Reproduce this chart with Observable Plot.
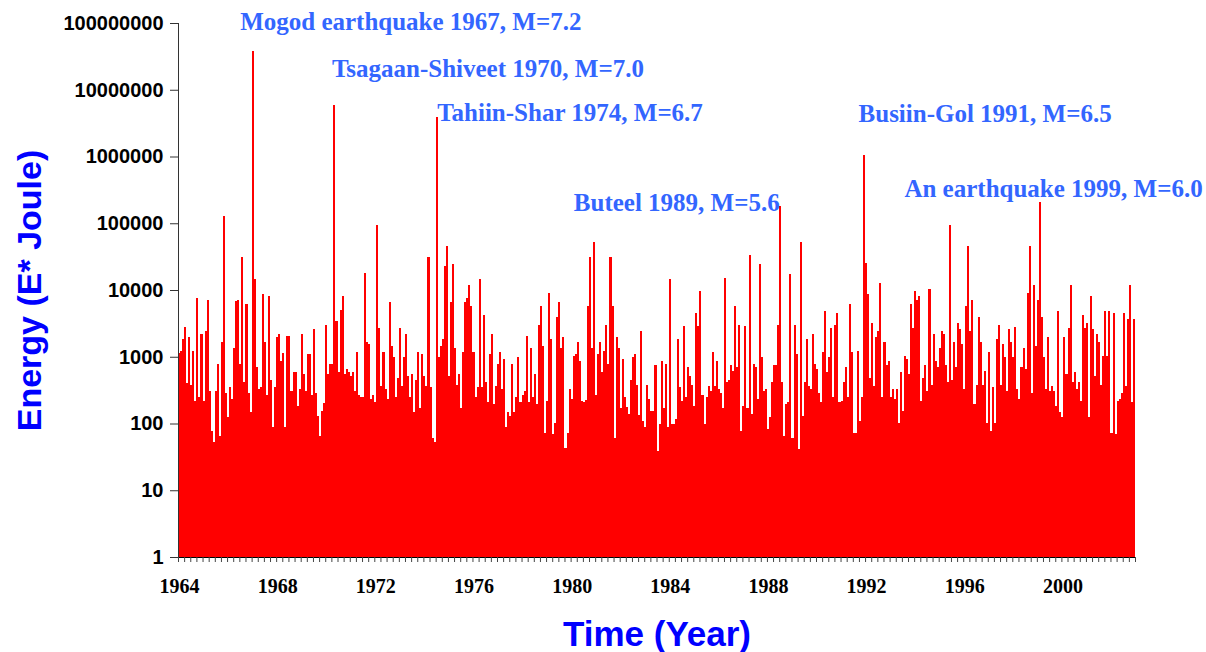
<!DOCTYPE html>
<html>
<head>
<meta charset="utf-8">
<script src="https://cdn.jsdelivr.net/npm/d3@7"></script>
<script src="https://cdn.jsdelivr.net/npm/@observablehq/plot@0.6"></script>
<style>
  html, body { margin: 0; padding: 0; background: #fff; }
  #chart svg { display: block; }
</style>
</head>
<body>
<div id="chart"></div>
<script>
// Monthly seismic energy (E* Joule), Jan 1964 – Dec 2002.
const energy1964to1968 = [
  1120, 1230, 1820, 2750, 410, 1960,
  380, 1230, 218, 7700, 247, 2230, 218, 2390, 7180, 304, 77, 53,
  304, 790, 65, 1690, 128000, 284, 124, 356, 230, 1330, 6780, 7180,
  790, 31100, 414, 6250, 284, 149, 38700000, 14600, 693, 325, 356,
  8800, 1640, 265, 8130, 443, 88, 348, 1950, 2230, 851, 1150, 88,
  2080, 2080, 304, 583, 583
];
const energy1968to1973 = [
  180, 325, 2230, 551, 304, 1085, 1085, 265, 2560, 290, 130, 65, 155, 200, 3040, 550, 790, 790,
  5900000,
  3480, 583, 4980, 8230, 551, 647, 583, 508, 583, 304, 1160,
  265, 250, 250, 17700, 1690, 1530, 233, 265, 208, 94400, 2740, 361,
  1160, 325, 233, 6700, 1440, 980, 250, 475, 2740, 361, 980, 2230,
  508, 250, 551, 150
];
const energy1973to1978 = [
  443, 1160, 169, 1085, 508, 361, 31600, 348, 60, 53,
  3950000,
  1000, 1440, 1820, 23100, 45900, 508, 6700, 24700,
  1330, 380, 545, 169, 1160, 6700, 7700, 12000, 5830, 1160, 250, 348,
  14800, 348, 4290, 414, 208, 1085, 2230, 197, 361, 790, 1160,
  325, 912, 88, 148, 129, 790, 148, 250, 980, 208, 265, 304,
  2080, 208, 1330, 250, 550
];
const energy1978to1983 = [
  194, 3040, 5830, 1430, 72, 215, 9120,
  1820, 70, 101, 4000, 6700, 1330, 1960, 43, 72, 325, 230, 1010,
  1085, 1690, 851, 215, 208, 223, 5830, 31600, 1330, 52600, 265,
  1085, 1640, 583, 1240, 3040, 770, 31600, 5830, 60, 1960, 1330, 169,
  912, 247, 175, 138, 443, 980, 1085, 380, 133, 2390, 108,
  88, 380, 230, 155, 155
];
const energy1983to1988 = [
  743, 39, 99, 851, 169, 790, 88,
  14800, 99, 99, 116, 1820, 348, 215, 2930, 247, 693, 508, 380,
  182, 4590, 2930, 9780, 265, 99, 247, 361, 304, 1160, 361, 851,
  325, 284, 169, 15300, 414, 443, 743, 604, 5830, 693, 3040, 77,
  182, 2930, 169, 33700, 138, 790, 693, 230, 24700, 980, 304,
  325, 82, 124, 414, 743
];
const energy1988to1993 = [
  743, 3040, 180000, 414, 65, 194, 208,
  17500, 60, 3040, 1085, 41, 52600, 129, 414, 1820, 361, 325, 2230,
  790, 647, 284, 208, 1160, 4920, 583, 980, 2740, 247, 3040,
  4590, 208, 215, 414, 693, 247, 6250, 1160, 72, 72, 1240, 108,
  247, 1050000, 25600, 8800, 475, 3250, 361, 1960, 2390, 12900, 247, 1690,
  743, 851, 247, 325, 230
];
const energy1993to1998 = [
  325, 101, 583, 155, 1010, 912,
  545, 6250, 2740, 9780, 7180, 8230, 215, 475, 743, 304, 10500, 380,
  2230, 851, 693, 1330, 2390, 2230, 743, 414, 94400, 443, 1690, 693,
  3250, 2560, 1530, 325, 5830, 45900, 2390, 7180, 194, 380, 4000,
  1690, 380, 604, 101, 1160, 77, 348, 101, 1820, 3040, 380, 1530,
  980, 304, 2560, 1690, 1000, 2800
];
const energy1998to2002 = [
  325, 230, 693, 1330, 647, 9120,
  45900, 284, 12000, 1430, 7180,
  210000,
  4000, 980, 325, 1960, 304, 361,
  304, 182, 4920, 148, 124, 1960, 545, 2740, 12000, 414, 583, 325,
  414, 215, 4290, 2740, 3250, 124, 8230, 2560, 508, 2230, 1690,
  380, 1010, 4920, 1010, 4920, 72, 4590, 70, 215, 230, 284, 4590,
  361, 3730, 12000, 208, 3730
];

const startYear = 1964;
const yTickValues = [1, 10, 100, 1000, 10000, 100000, 1000000, 10000000, 100000000];
const yearTickLabels = [1964, 1968, 1972, 1976, 1980, 1984, 1988, 1992, 1996, 2000];

const eventNames = ["Mogod earthquake", "Tsagaan-Shiveet", "Tahiin-Shar", "Buteel", "Busiin-Gol", "An earthquake"];
const eventYears = [1967, 1970, 1974, 1989, 1991, 1999];
const eventMagnitudes = [7.2, 7.0, 6.7, 5.6, 6.5, 6.0];
const eventBarIndex = [36, 76, 126, 294, 335, 421];

const xTitle = "Time (Year)";
const yTitle = "Energy (E* Joule)";

// ---- build ----
const energy = [
  ...energy1964to1968, ...energy1968to1973, ...energy1973to1978, ...energy1978to1983,
  ...energy1983to1988, ...energy1988to1993, ...energy1993to1998, ...energy1998to2002
];
const data = energy.map((e, i) => ({i, energy: e}));
const n = energy.length;

const W = 1206, H = 652, ML = 178, MR = 71, MT = 23, MB = 95;
const bw = (W - ML - MR) / n;
const quarterTicks = d3.range(0, n, 3);
const labelTicks = yearTickLabels.map(y => (y - startYear) * 12);

const events = eventNames.map((name, k) => ({
  i: eventBarIndex[k],
  energy: energy[eventBarIndex[k]],
  label: `${name} ${eventYears[k]}, M=${eventMagnitudes[k].toFixed(1)}`
}));
// label placement relative to each peak (pixels)
const annotLayout = [
  {dx: -13, dy: -21.5, anchor: "start"},
  {dx: -3, dy: -29, anchor: "start"},
  {dx: 0, dy: 4.3, anchor: "start"},
  {dx: -1, dy: 4, anchor: "end"},
  {dx: -6, dy: -33.4, anchor: "start"},
  {dx: -136, dy: -5, anchor: "start"}
];

const serif = "'Liberation Serif', 'Times New Roman', Times, serif";
const sans = "'Liberation Sans', Arial, Helvetica, sans-serif";

const chart = Plot.plot({
  width: W,
  height: H,
  marginLeft: ML,
  marginRight: MR,
  marginTop: MT,
  marginBottom: MB,
  style: {background: "white", overflow: "visible"},
  x: {type: "band", domain: d3.range(n), padding: 0, round: false, label: null},
  y: {type: "log", domain: [1, 1e8], label: null},
  marks: [
    Plot.barY(data, {x: "i", y1: 1, y2: "energy", fill: "#ff0000", inset: 0, shapeRendering: "crispEdges"}),
    Plot.ruleY([1], {stroke: "#000", strokeWidth: 1}),
    Plot.ruleX([0], {dx: -bw / 2, stroke: "#333", strokeWidth: 1}),
    Plot.axisY({
      ticks: yTickValues, tickFormat: d => String(d), tickSize: 8, tickPadding: 7,
      fontSize: 20, fontWeight: "bold", fontFamily: sans, label: null, stroke: "#333"
    }),
    Plot.axisX({
      ticks: quarterTicks, tickFormat: () => "", tickSize: 5, dx: -bw / 2, label: null, stroke: "#444"
    }),
    Plot.axisX({
      ticks: [n - 1], tickFormat: () => "", tickSize: 5, dx: bw / 2, label: null, stroke: "#444"
    }),
    Plot.axisX({
      ticks: labelTicks, tickFormat: i => String(startYear + i / 12), tickSize: 0, tickPadding: 21,
      fontSize: 20, fontWeight: "bold", fontFamily: serif, label: null
    }),
    ...events.map((e, k) => Plot.text([e], {
      x: "i", y: "energy", text: "label",
      dx: annotLayout[k].dx, dy: annotLayout[k].dy,
      textAnchor: annotLayout[k].anchor, lineAnchor: "bottom",
      fill: "#3366ff", fontSize: 25, fontWeight: "bold", fontFamily: serif
    })),
    Plot.text([xTitle], {
      frameAnchor: "bottom", dy: 88, lineAnchor: "bottom",
      fontSize: 35, fontWeight: "bold", fontFamily: sans, fill: "#0000ff"
    }),
    Plot.text([yTitle], {
      frameAnchor: "left", rotate: -90, dx: -138, lineAnchor: "bottom", textAnchor: "middle",
      fontSize: 34, fontWeight: "bold", fontFamily: sans, fill: "#0000ff"
    })
  ]
});
document.getElementById("chart").append(chart);
</script>
</body>
</html>
